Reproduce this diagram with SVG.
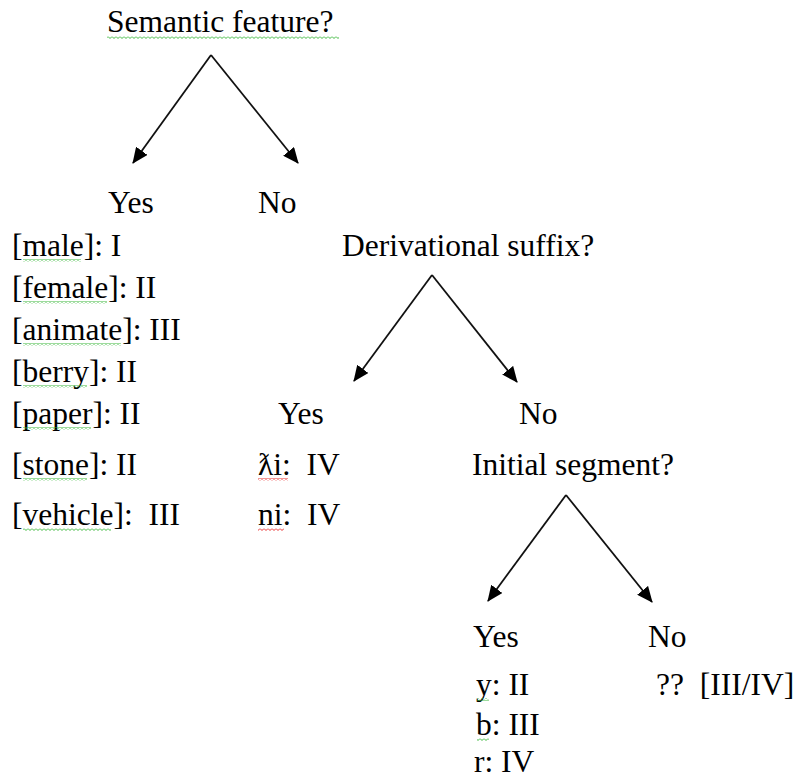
<svg xmlns="http://www.w3.org/2000/svg" width="800" height="780" viewBox="0 0 800 780">
<style>
text{font-family:"Liberation Serif","Times New Roman",serif;font-size:31.5px;fill:#000;white-space:pre}
.c{stroke:#111;stroke-width:1.8;fill:none}
</style>
<defs>
<marker id="ah" viewBox="0 0 16 14" refX="15" refY="7" markerWidth="16" markerHeight="14" markerUnits="userSpaceOnUse" orient="auto">
<path d="M0,0 L16,7 L0,14 Z" fill="#000"/>
</marker>
<pattern id="wg" width="4" height="3" patternUnits="userSpaceOnUse">
<polyline points="0,0.5 2,2.5 4,0.5" fill="none" stroke="#3cb83c" stroke-width="1"/>
</pattern>
<pattern id="wr" width="4" height="3" patternUnits="userSpaceOnUse">
<polyline points="0,0.5 2,2.5 4,0.5" fill="none" stroke="#e83030" stroke-width="1"/>
</pattern>
</defs>
<rect width="800" height="780" fill="#fff"/>

<g id="q1"><text x="107" y="32">Semantic feature?</text><rect x="107" y="36" width="232" height="3" fill="url(#wg)"/></g>
<g id="yes1"><text x="108" y="213">Yes</text></g>
<g id="no1"><text x="258" y="213">No</text></g>

<g id="yes1-list">
<text x="12" y="256">[male]: I</text><rect x="23" y="259" width="58" height="3" fill="url(#wg)"/>
<text x="12" y="298">[female]: II</text><rect x="23" y="301" width="84" height="3" fill="url(#wg)"/>
<text x="12" y="340">[animate]: III</text><rect x="23" y="343" width="98" height="3" fill="url(#wg)"/>
<text x="12" y="382">[berry]: II</text><rect x="23" y="385" width="64" height="3" fill="url(#wg)"/>
<text x="12" y="424">[paper]: II</text><rect x="23" y="427" width="68" height="3" fill="url(#wg)"/>
<text x="12" y="475">[stone]: II</text><rect x="23" y="478" width="64" height="3" fill="url(#wg)"/>
<text x="12" y="525">[vehicle]:  III</text><rect x="23" y="528" width="88" height="3" fill="url(#wg)"/>
</g>

<g id="q2"><text x="342" y="256">Derivational suffix?</text></g>
<g id="yes2"><text x="278" y="424">Yes</text></g>
<g id="no2"><text x="519" y="424">No</text></g>
<g id="yes2-list">
<text x="258" y="475">ƛi:  IV</text><rect x="258" y="478" width="30" height="3" fill="url(#wr)"/>
<text x="258" y="525">ni:  IV</text><rect x="258" y="528" width="26" height="3" fill="url(#wr)"/>
</g>

<g id="q3"><text x="472" y="475">Initial segment?</text></g>
<g id="yes3"><text x="473" y="647">Yes</text></g>
<g id="no3"><text x="648" y="647">No</text></g>
<g id="yes3-list">
<text x="476" y="695">y: II</text><rect x="477" y="698" width="12" height="3" fill="url(#wg)"/>
<text x="476" y="735">b: III</text><rect x="477" y="738" width="12" height="3" fill="url(#wg)"/>
<text x="474" y="772">r: IV</text>
</g>
<g id="no3-list"><text x="656" y="695">??  [III/IV]</text></g>

<g id="connectors">
<line class="c" x1="211" y1="55" x2="133" y2="163" marker-end="url(#ah)"/>
<line class="c" x1="211" y1="55" x2="298" y2="163" marker-end="url(#ah)"/>
<line class="c" x1="432" y1="275" x2="354" y2="381" marker-end="url(#ah)"/>
<line class="c" x1="432" y1="275" x2="517" y2="382" marker-end="url(#ah)"/>
<line class="c" x1="566" y1="495" x2="488" y2="601" marker-end="url(#ah)"/>
<line class="c" x1="566" y1="495" x2="652" y2="602" marker-end="url(#ah)"/>
</g>
</svg>
